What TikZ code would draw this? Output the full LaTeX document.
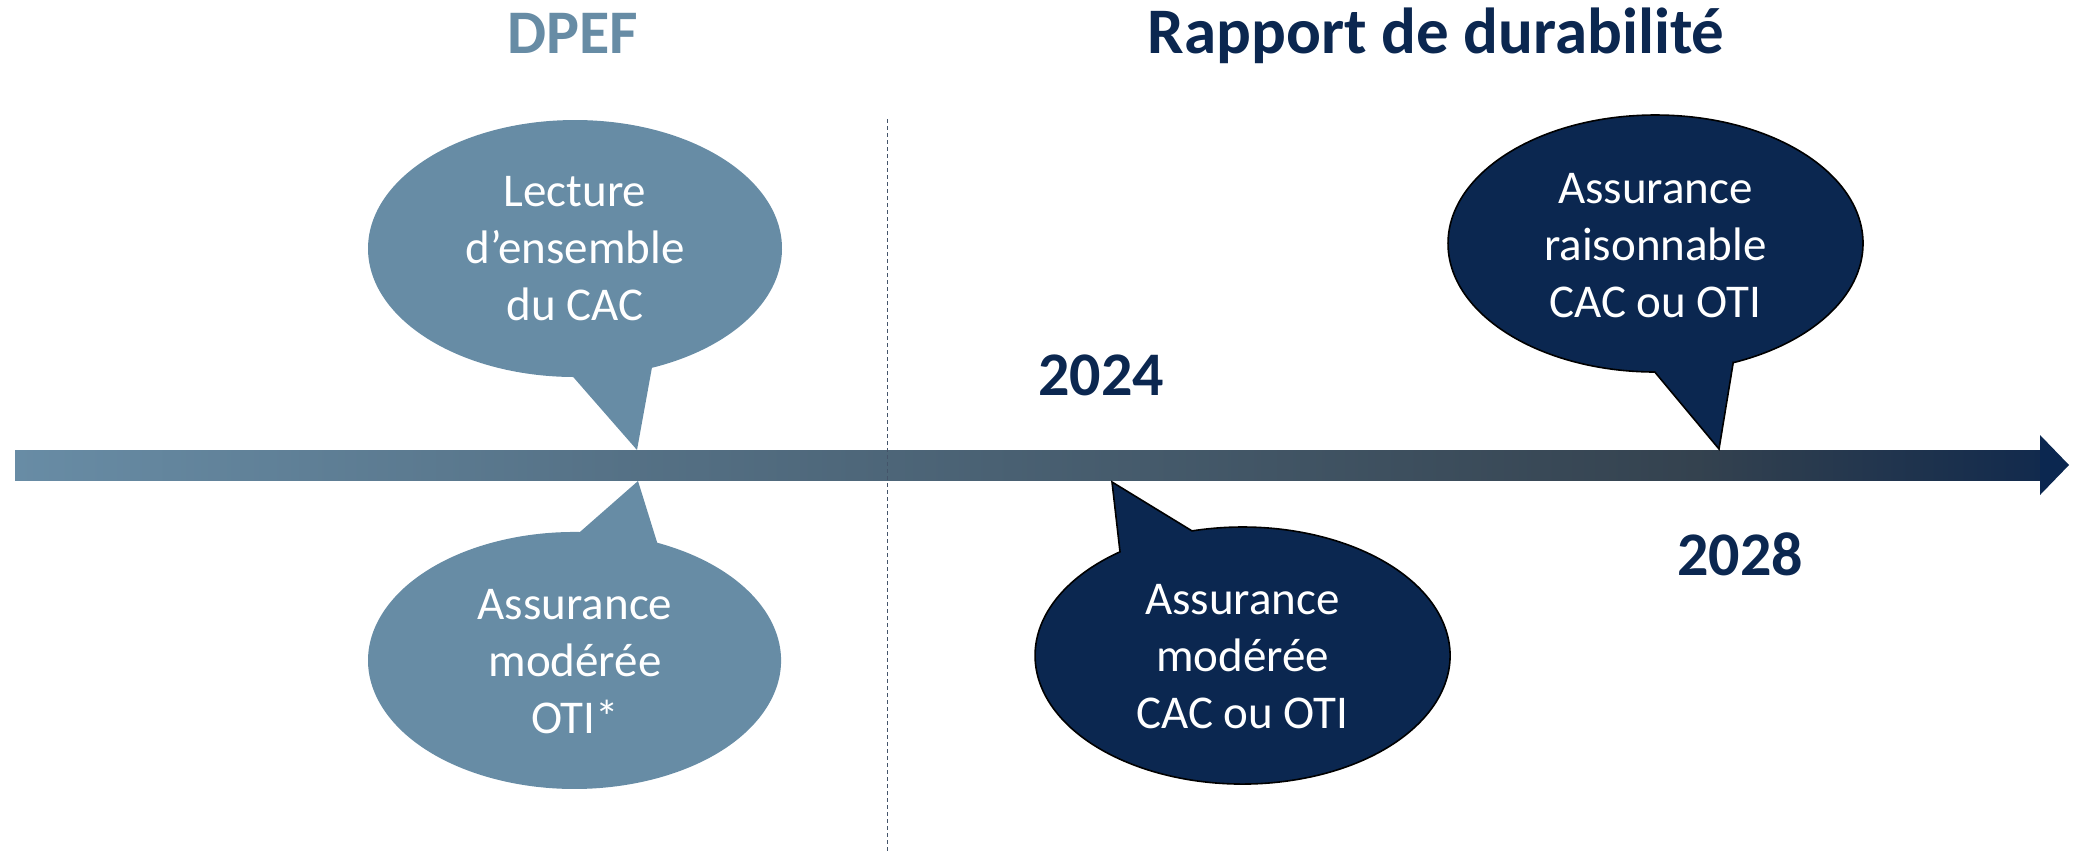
\documentclass[tikz,border=0pt]{standalone}
\usepackage{fontspec}
\setmainfont{Carlito}
\definecolor{lightc}{RGB}{103,140,165}
\definecolor{darkc}{RGB}{11,39,80}
\definecolor{dashc}{RGB}{68,84,106}
\pgfdeclarehorizontalshading{barshade}{100bp}{rgb(0bp)=(0.408,0.549,0.647); rgb(25bp)=(0.408,0.549,0.647); rgb(66.5bp)=(0.204,0.259,0.310); rgb(75bp)=(0.07,0.165,0.30); rgb(100bp)=(0.07,0.165,0.30)}
\tikzset{
  lightbub/.style={fill=lightc},
  darkbub/.style={fill=darkc, draw=black, line width=0.8pt, line join=miter},
  bubtext/.style={text=white, font=\fontsize{23.5}{28.5}\selectfont, align=center, inner sep=0pt},
  yeartext/.style={text=darkc, font=\fontsize{31}{37}\selectfont\bfseries, anchor=base, inner sep=0pt},
  titletext/.style={font=\fontsize{31}{37}\selectfont\bfseries, anchor=base, inner sep=0pt},
  divider/.style={draw=dashc, line width=0.75pt, dash pattern=on 2pt off 1.5pt},
}
\begin{document}
\begin{tikzpicture}[x=0.5pt,y=-0.5pt]
\useasboundingbox (0,0) rectangle (2077,858);

% timeline arrow
\shade[shading=barshade] (15,450) rectangle (2040,480);
\fill[darkc] (2040,435) -- (2069,465) -- (2040,495) -- cycle;

% divider
\coordinate (dtop) at (887.5,119);
\coordinate (dbot) at (887.5,854);
\draw[divider] (dtop) -- (dbot);

% titles
\node[titletext, text=lightc] (dpef) at (572.5,53) {DPEF};
\node[titletext, text=darkc, font=\fontsize{32.5}{38}\selectfont\bfseries] (rapport) at (1436,53) {Rapport de durabilité};

% bubble 1: Lecture d'ensemble du CAC
\path[lightbub] (651.9,367.8) -- (637,450) -- (573.2,377.0)
  arc[start angle=90.5, end angle=428.2, x radius=207, y radius=128.5] -- cycle;
\node[bubtext] (b1) at (575,249) {Lecture\\d’ensemble\\du CAC};

% bubble 2: Assurance moderee OTI*
\path[lightbub] (579.9,532.0) -- (638,481) -- (657.2,542.7)
  arc[start angle=-66.4, end angle=271.5, x radius=206.5, y radius=128.5] -- cycle;
\node[bubtext] (b2) at (575,662) {Assurance\\modérée\\OTI*};

% bubble 3: Assurance moderee CAC ou OTI
\path[darkbub] (1120.0,551.8) -- (1112,482) -- (1192.0,530.9)
  arc[start angle=-104.1, end angle=233.8, x radius=207.5, y radius=128.5] -- cycle;
\node[bubtext] (b3) at (1242.5,657) {Assurance\\modérée\\CAC ou OTI};

% bubble 4: Assurance raisonnable CAC ou OTI
\path[darkbub] (1733.2,362.6) -- (1719,449) -- (1654.8,372.0)
  arc[start angle=90.2, end angle=428, x radius=207.5, y radius=128.5] -- cycle;
\node[bubtext] (b4) at (1655.5,246) {Assurance\\raisonnable\\CAC ou OTI};

% years
\node[yeartext] (y2024) at (1101,395) {2024};
\node[yeartext] (y2028) at (1740,575) {2028};
\end{tikzpicture}
\end{document}
